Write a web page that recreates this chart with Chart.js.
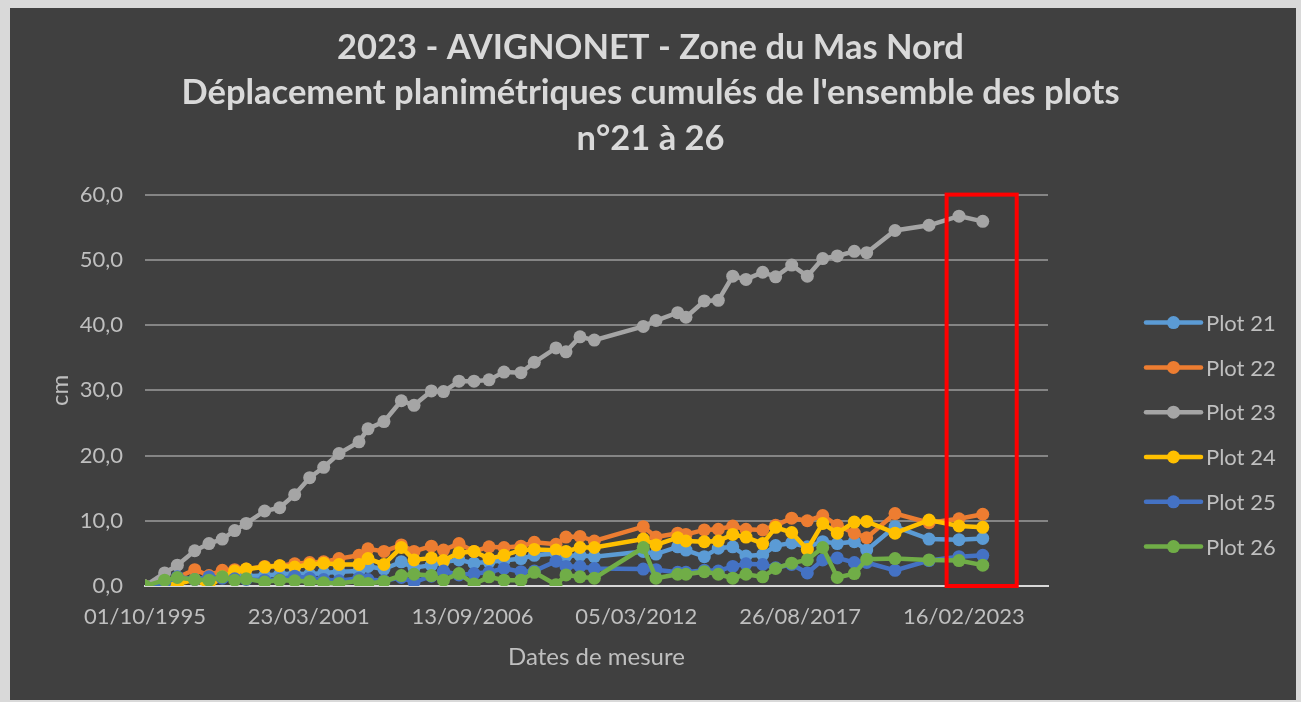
<!DOCTYPE html>
<html lang="fr">
<head>
<meta charset="utf-8">
<title>2023 - AVIGNONET - Zone du Mas Nord</title>
<script src="https://cdn.jsdelivr.net/npm/chart.js@4"></script>
<style>
  html, body { margin: 0; padding: 0; background: #d9d9d9; }
  #wrap { width: 1301px; height: 702px; }
</style>
</head>
<body>
<div id="wrap"><canvas id="chart" width="1301" height="702"></canvas></div>
<script>
// Dates de mesure
const measureDates = [
  '1995-10-01', '1996-05-28', '1996-10-30', '1997-05-30', '1997-11-20', '1998-05-02',
  '1998-09-30', '1999-02-18', '1999-10-01', '2000-04-02', '2000-10-02', '2001-04-03',
  '2001-09-21', '2002-03-27', '2002-11-26', '2003-03-16', '2003-09-27', '2004-04-26',
  '2004-09-28', '2005-04-28', '2005-09-23', '2006-03-31', '2006-10-01', '2007-04-02',
  '2007-10-02', '2008-04-26', '2008-10-06', '2009-06-28', '2009-10-28', '2010-04-17',
  '2010-10-09', '2012-05-29', '2012-10-31', '2013-07-23', '2013-11-01', '2014-06-13',
  '2014-12-01', '2015-05-26', '2015-11-04', '2016-05-26', '2016-10-31', '2017-05-15',
  '2017-11-22', '2018-05-29', '2018-11-23', '2019-06-19', '2019-11-17', '2020-10-28',
  '2021-12-17', '2022-12-18', '2023-10-04'
];

// Déplacements cumulés (cm)
const plot21 = [0, 0.5, 1.0, 1.0, 1.2, 1.3, 1.4, 1.5, 1.6, 1.8, 1.9, 1.8, 2.0, 2.2, 2.3, 3.0, 2.6,
  3.7, 2.8, 3.2, 3.7, 4.0, 3.5, 3.7, 3.9, 4.2, 4.7, 5.0, 4.6, 4.7, 4.5, 5.3, 4.9, 6.0, 5.5, 4.5,
  5.8, 6.0, 4.6, 4.8, 6.2, 6.6, 6.0, 6.8, 6.5, 6.8, 5.5, 9.1, 7.2, 7.1, 7.3];
const plot22 = [0, 0.6, 1.3, 2.5, 1.6, 2.4, 2.5, 2.6, 3.0, 3.1, 3.4, 3.6, 3.7, 4.2, 4.7, 5.7, 5.3,
  6.3, 5.3, 6.1, 5.5, 6.5, 5.3, 6.0, 5.9, 6.1, 6.7, 6.4, 7.5, 7.6, 6.9, 9.1, 7.5, 8.1, 7.9, 8.6,
  8.7, 9.2, 8.7, 8.6, 9.3, 10.4, 10.0, 10.8, 9.3, 8.1, 7.4, 11.1, 9.7, 10.3, 11.0];
const plot23 = [0, 2.0, 3.2, 5.4, 6.5, 7.2, 8.5, 9.6, 11.5, 12.0, 14.0, 16.6, 18.2, 20.3, 22.1,
  24.1, 25.2, 28.4, 27.7, 29.9, 29.8, 31.4, 31.4, 31.6, 32.8, 32.7, 34.3, 36.5, 35.9, 38.2, 37.7,
  39.8, 40.7, 41.9, 41.2, 43.7, 43.8, 47.5, 47.0, 48.1, 47.4, 49.2, 47.5, 50.2, 50.6, 51.3, 51.1,
  54.5, 55.3, 56.7, 55.9];
const plot24 = [0, -0.2, 0.3, 1.0, -0.1, 1.4, 2.3, 2.6, 2.9, 3.1, 2.9, 3.3, 3.5, 3.3, 3.3, 4.2,
  3.3, 5.9, 4.0, 4.3, 3.9, 5.1, 5.3, 4.2, 4.7, 5.5, 5.6, 5.5, 5.3, 5.9, 5.9, 7.2, 6.3, 7.4, 6.9,
  6.8, 6.9, 7.9, 7.5, 6.5, 9.0, 8.2, 5.6, 9.6, 8.1, 9.8, 9.9, 8.1, 10.1, 9.2, 9.0];
const plot25 = [0, 0.5, 1.4, 1.0, 1.4, 1.2, 1.1, 1.0, 0.9, 1.0, 1.5, 1.2, 1.0, 0.8, 1.2, 1.0, 0.8,
  1.3, 0.6, 1.5, 2.3, 1.7, 1.9, 2.1, 2.7, 2.2, 2.3, 3.8, 3.0, 3.0, 2.7, 2.6, 2.5, 2.1, 2.1, 2.4,
  2.3, 3.0, 3.4, 3.3, 2.8, 3.3, 2.0, 4.0, 4.3, 3.6, 3.6, 2.4, 3.9, 4.5, 4.7];
const plot26 = [0, 0.9, 1.3, 1.0, 0.9, 1.4, 0.9, 1.1, 0.6, 0.9, 0.8, 0.7, 0.5, 0.4, 0.8, 0.4, 0.7,
  1.6, 1.8, 1.6, 0.9, 1.9, 0.3, 1.4, 0.9, 0.9, 2.1, 0.2, 1.7, 1.4, 1.2, 5.9, 1.2, 1.8, 1.8, 2.2,
  1.8, 1.2, 1.8, 1.4, 2.7, 3.5, 4.0, 5.9, 1.3, 1.9, 4.1, 4.2, 4.0, 3.9, 3.2];

const seriesLabels = ['Plot 21', 'Plot 22', 'Plot 23', 'Plot 24', 'Plot 25', 'Plot 26'];
const seriesValues = [plot21, plot22, plot23, plot24, plot25, plot26];
const seriesColors = ['#5b9bd5', '#ed7d31', '#a5a5a5', '#ffc000', '#4472c4', '#70ad47'];

// Axes
const axisStart = '1995-10-01';
const axisEnd = '2025-12-09';
const dateStepDays = 2000;
const yMin = 0, yMax = 60, yStep = 10;

// Cadre rouge (zone 2023)
const highlightFrom = '2022-07-20';
const highlightTo = '2024-11-22';

const titleLines = [
  '2023 - AVIGNONET - Zone du Mas Nord',
  "Déplacement planimétriques cumulés de l'ensemble des plots",
  'n°21 à 26'
];

const DAY = 86400000;
function toUtc(iso) {
  const p = iso.split('-').map(Number);
  return Date.UTC(p[0], p[1] - 1, p[2]);
}
const originMs = toUtc(axisStart);
function dayNumber(iso) {
  return Math.round((toUtc(iso) - originMs) / DAY);
}
function pad(n) { return (n < 10 ? '0' : '') + n; }
function formatDay(v) {
  const d = new Date(originMs + v * DAY);
  return pad(d.getUTCDate()) + '/' + pad(d.getUTCMonth() + 1) + '/' + d.getUTCFullYear();
}

// Graduations tous les 2000 jours, comme l'axe Excel
const xMax = dayNumber(axisEnd);
const dateTicks = [];
for (let v = 0; v <= xMax; v += dateStepDays) dateTicks.push(v);

const textColor = '#bfbfbf';
const fontFamily = 'Lato, "Open Sans", sans-serif';

const datasets = seriesLabels.map(function(label, i) {
  return {
    label: label,
    data: measureDates.map(function(d, j) { return { x: dayNumber(d), y: seriesValues[i][j] }; }),
    borderColor: seriesColors[i],
    backgroundColor: seriesColors[i],
    borderWidth: 4.5,
    pointRadius: 6.5,
    pointBorderWidth: 0,
    pointHoverRadius: 6.5,
    tension: 0,
    order: seriesLabels.length - i   // later series on top, like Excel
  };
});

// Fond gris foncé avec marge claire
const backgroundPlugin = {
  id: 'panel',
  beforeDraw(chart) {
    const ctx = chart.ctx;
    ctx.save();
    ctx.fillStyle = '#d9d9d9';
    ctx.fillRect(0, 0, chart.width, chart.height);
    ctx.fillStyle = '#404040';
    ctx.fillRect(10, 8, chart.width - 15, chart.height - 10);
    ctx.restore();
  }
};

// Cadre rouge autour des dernières mesures
const highlightPlugin = {
  id: 'highlight',
  afterDatasetsDraw(chart) {
    const x = chart.scales.x, y = chart.scales.y;
    const left = x.getPixelForValue(dayNumber(highlightFrom));
    const right = x.getPixelForValue(dayNumber(highlightTo));
    const top = y.getPixelForValue(yMax);
    const bottom = y.getPixelForValue(yMin);
    const ctx = chart.ctx;
    ctx.save();
    ctx.strokeStyle = '#ff0000';
    ctx.lineWidth = 4;
    ctx.strokeRect(left, top, right - left, bottom - top);
    ctx.restore();
  }
};

// Légende façon Excel (trait + marqueur)
const legendPlugin = {
  id: 'excelLegend',
  afterDraw(chart) {
    const ctx = chart.ctx;
    const area = chart.chartArea;
    const x0 = area.right + 98;
    const y0 = area.top + 128;
    ctx.save();
    ctx.font = '22px ' + fontFamily;
    ctx.textBaseline = 'middle';
    chart.data.datasets.forEach(function(ds, i) {
      const y = y0 + i * 44.8;
      ctx.strokeStyle = ds.borderColor;
      ctx.lineWidth = 4.5;
      ctx.lineCap = 'round';
      ctx.beginPath();
      ctx.moveTo(x0, y);
      ctx.lineTo(x0 + 55, y);
      ctx.stroke();
      ctx.fillStyle = ds.borderColor;
      ctx.beginPath();
      ctx.arc(x0 + 27.5, y, 6.5, 0, Math.PI * 2);
      ctx.fill();
      ctx.fillStyle = textColor;
      ctx.fillText(ds.label, x0 + 60, y + 1);
    });
    ctx.restore();
  }
};

new Chart(document.getElementById('chart'), {
  type: 'line',
  data: { datasets: datasets },
  plugins: [backgroundPlugin, highlightPlugin, legendPlugin],
  options: {
    responsive: false,
    animation: false,
    devicePixelRatio: 1,
    layout: { padding: { top: 8, left: 0, right: 0, bottom: 12 } },
    plugins: {
      legend: { display: false },
      tooltip: { enabled: false },
      title: {
        display: true,
        text: titleLines,
        color: '#d9d9d9',
        font: { family: fontFamily, size: 34.5, weight: 'bold', lineHeight: 1.32 },
        padding: { top: 17, bottom: 33 }
      }
    },
    scales: {
      x: {
        type: 'linear',
        min: 0,
        max: xMax,
        grid: { display: false, drawTicks: false },
        border: { color: '#d9d9d9', width: 2 },
        afterBuildTicks: function(s) {
          s.ticks = dateTicks.map(function(v) { return { value: v }; });
        },
        ticks: {
          autoSkip: false,
          maxRotation: 0,
          color: textColor,
          font: { family: fontFamily, size: 22 },
          padding: 18,
          callback: function(v) { return formatDay(v); }
        },
        title: {
          display: true,
          text: 'Dates de mesure',
          color: textColor,
          font: { family: fontFamily, size: 24 },
          padding: { bottom: 18 }
        },
        afterFit: function(s) { s.height = 104; }
      },
      y: {
        min: yMin,
        max: yMax,
        grid: {
          color: function(c) { return c.tick && c.tick.value === 0 ? '#d9d9d9' : '#858585'; },
          lineWidth: 2,
          drawTicks: false
        },
        border: { display: false },
        ticks: {
          stepSize: yStep,
          color: textColor,
          font: { family: fontFamily, size: 22 },
          padding: 22,
          callback: function(v) { return v.toFixed(1).replace('.', ','); }
        },
        title: {
          display: true,
          text: 'cm',
          color: textColor,
          font: { family: fontFamily, size: 24 },
          padding: { top: 46 }
        },
        afterFit: function(s) { s.width = 145; }
      },
      legendSpace: {
        position: 'right',
        min: 0,
        max: 1,
        grid: { display: false, drawTicks: false },
        border: { display: false },
        ticks: { display: false },
        afterFit: function(s) { s.width = 253; }
      }
    }
  }
});
</script>
</body>
</html>
